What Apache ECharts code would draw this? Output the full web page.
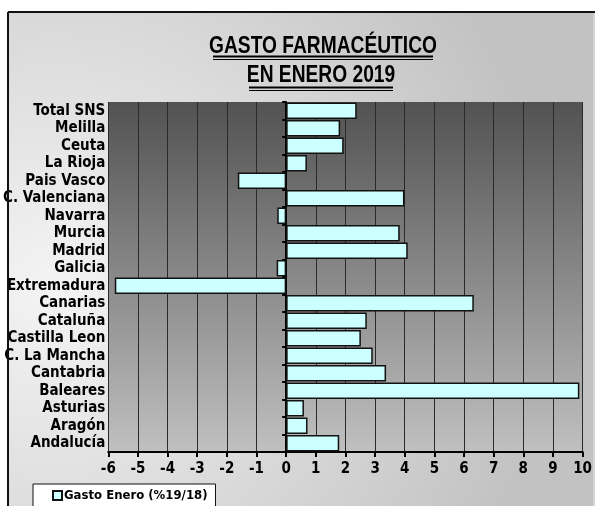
<!DOCTYPE html>
<html>
<head>
<meta charset="utf-8">
<script src="https://cdn.jsdelivr.net/npm/echarts@6/dist/echarts.min.js"></script>
<style>
  html, body { margin: 0; padding: 0; background: #fff; }
  #myChart { width: 595px; height: 506px; }
</style>
</head>
<body>
<div id="myChart"></div>
<script>
// datos
const regiones = ['Total SNS', 'Melilla', 'Ceuta', 'La Rioja', 'Pais Vasco', 'C. Valenciana', 'Navarra',
  'Murcia', 'Madrid', 'Galicia', 'Extremadura', 'Canarias', 'Cataluña', 'Castilla Leon', 'C. La Mancha',
  'Cantabria', 'Baleares', 'Asturias', 'Aragón', 'Andalucía'];
const gastoEnero = [2.38, 1.82, 1.94, 0.7, -1.63, 3.99, -0.3, 3.83, 4.1, -0.32, -5.78, 6.33, 2.72,
  2.52, 2.92, 3.37, 9.89, 0.6, 0.72, 1.79];
const serieNombre = 'Gasto Enero (%19/18)';
const titulo1 = 'GASTO FARMACÉUTICO';
const titulo2 = 'EN ENERO 2019';

const fuente = "'Liberation Sans Narrow', 'DejaVu Sans Condensed', 'Liberation Sans', sans-serif";
const fuenteTitulo = "'Liberation Sans', Arial, sans-serif";

const myChart = echarts.init(document.getElementById('myChart'));
myChart.setOption({
  animation: false,
  backgroundColor: '#ffffff',
  textStyle: { fontFamily: fuente },
  graphic: [
    {
      // marco exterior con degradado
      type: 'rect',
      z: -10,
      shape: { x: 8, y: 12, width: 587, height: 500 },
      style: {
        fill: {
          type: 'radial', x: 0.08, y: 0.55, r: 1.0,
          colorStops: [{ offset: 0, color: '#f4f4f4' }, { offset: 1, color: '#c2c2c2' }],
        },
      },
    },
    { type: 'line', z: 100, shape: { x1: 8, y1: 12, x2: 595, y2: 12 }, style: { stroke: '#111', lineWidth: 2 } },
    { type: 'line', z: 100, shape: { x1: 8, y1: 12, x2: 8, y2: 506 }, style: { stroke: '#111', lineWidth: 2 } },
    { type: 'line', z: 100, shape: { x1: 594, y1: 13, x2: 594, y2: 506 }, style: { stroke: '#e6e6e6', lineWidth: 1 } },
    {
      type: 'text', z: 100, x: 323, y: 34, scaleX: 0.8,
      style: { text: titulo1, font: `bold 24px ${fuenteTitulo}`, fill: '#000', textAlign: 'center' },
    },
    {
      type: 'text', z: 100, x: 321, y: 63, scaleX: 0.8,
      style: { text: titulo2, font: `bold 24px ${fuenteTitulo}`, fill: '#000', textAlign: 'center' },
    },
    // subrayado doble
    { type: 'line', z: 100, shape: { x1: 213, y1: 56.5, x2: 433, y2: 56.5 }, style: { stroke: '#000', lineWidth: 2 } },
    { type: 'line', z: 100, shape: { x1: 213, y1: 59.5, x2: 433, y2: 59.5 }, style: { stroke: '#000', lineWidth: 1 } },
    { type: 'line', z: 100, shape: { x1: 249, y1: 87.5, x2: 393, y2: 87.5 }, style: { stroke: '#000', lineWidth: 2 } },
    { type: 'line', z: 100, shape: { x1: 249, y1: 90.5, x2: 393, y2: 90.5 }, style: { stroke: '#000', lineWidth: 1 } },
  ],
  legend: {
    left: 33,
    top: 484,
    data: [serieNombre],
    backgroundColor: '#ffffff',
    borderColor: '#111',
    borderWidth: 1,
    padding: [5, 8, 8, 19],
    itemWidth: 9,
    itemHeight: 9,
    itemGap: 3,
    icon: 'rect',
    textStyle: { fontFamily: fuente, fontWeight: 'bold', fontSize: 13, color: '#000', padding: [0, 0, 0, -3] },
  },
  grid: {
    left: 108,
    right: 12,
    top: 102,
    bottom: 54,
    show: true,
    borderWidth: 0,
    backgroundColor: new echarts.graphic.LinearGradient(0, 0, 0, 1, [
      { offset: 0, color: '#525252' },
      { offset: 1, color: '#c0c0c0' },
    ]),
  },
  xAxis: {
    type: 'value',
    min: -6,
    max: 10,
    interval: 1,
    axisLine: { show: true, onZero: false, lineStyle: { color: '#000', width: 2 } },
    axisTick: { show: true, length: 5, lineStyle: { color: '#000', width: 2 } },
    axisLabel: { color: '#000', fontSize: 15, fontWeight: 'bold', fontFamily: fuente, margin: 10 },
    splitLine: { show: true, lineStyle: { color: '#2a2a2a', width: 1 } },
  },
  yAxis: [
    {
      type: 'category',
      inverse: true,
      data: regiones,
      axisLine: { show: false, onZero: false },
      axisTick: { show: false },
      axisLabel: { interval: 0, color: '#000', fontSize: 15, fontWeight: 'bold', fontFamily: fuente, margin: 3 },
      splitLine: { show: false },
    },
    {
      // eje en el cero
      type: 'category',
      inverse: true,
      position: 'left',
      data: regiones,
      axisLine: { show: true, onZero: true, lineStyle: { color: '#000', width: 2 } },
      axisTick: { show: true, interval: 0, length: 4, lineStyle: { color: '#000', width: 2 } },
      axisLabel: { show: false },
      splitLine: { show: false },
    },
  ],
  series: [
    {
      name: serieNombre,
      type: 'bar',
      yAxisIndex: 0,
      data: gastoEnero,
      barCategoryGap: '5%',
      itemStyle: { color: '#ccffff', borderColor: '#111', borderWidth: 1.5 },
    },
  ],
});
</script>
</body>
</html>
